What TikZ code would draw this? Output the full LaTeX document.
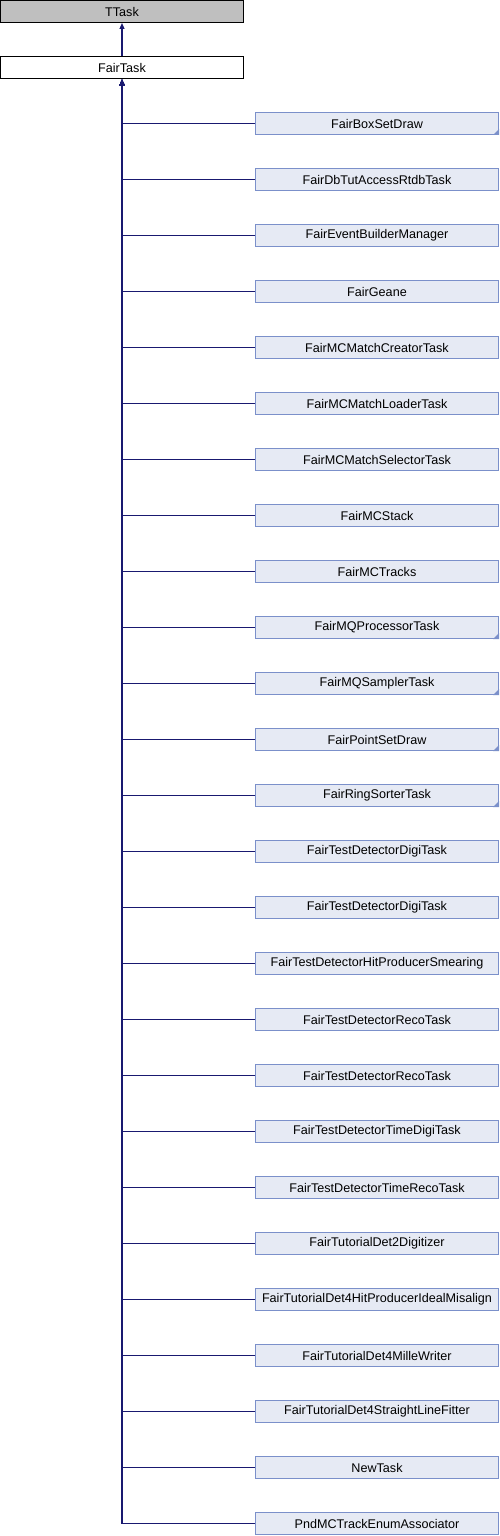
\documentclass[tikz,border=0pt]{standalone}
\usepackage{fontspec}
\setmainfont{Liberation Sans}
\usepackage{tikz}
\usetikzlibrary{arrows.meta}
\definecolor{basefill}{HTML}{BFBFBF}
\definecolor{classfill}{HTML}{E6EAF4}
\definecolor{classline}{HTML}{7B90CA}
\definecolor{inhline}{HTML}{191970}
\tikzstyle{every node}=[font=\fontsize{12.6}{14}\selectfont]
\tikzstyle{cls}=[draw,line width=1pt,inner sep=0pt,minimum width=243pt,minimum height=22pt]
\tikzstyle{base}=[cls,fill=basefill]
\tikzstyle{child}=[cls,draw=classline,fill=classfill]
\tikzstyle{inh}=[draw=inhline,line width=1.2pt,-{Triangle[length=6pt,width=5pt]}]

\begin{document}
\begin{tikzpicture}[x=1pt,y=-1pt]
\useasboundingbox (0,0) rectangle (500,1536);
\node[base]            (TTask)    at (122,11.5) {TTask};
\node[cls,fill=white]  (FairTask) at (122,68)   {FairTask};
\draw[inh] (FairTask) -- (TTask);
% derived classes, ! marks a box with a corner triangle
\foreach \name/\mark [count=\i from 0] in {
  FairBoxSetDraw/!, FairDbTutAccessRtdbTask/, FairEventBuilderManager/,
  FairGeane/, FairMCMatchCreatorTask/, FairMCMatchLoaderTask/,
  FairMCMatchSelectorTask/, FairMCStack/, FairMCTracks/,
  FairMQProcessorTask/!, FairMQSamplerTask/!, FairPointSetDraw/!,
  FairRingSorterTask/!, FairTestDetectorDigiTask/, FairTestDetectorDigiTask/,
  FairTestDetectorHitProducerSmearing/, FairTestDetectorRecoTask/,
  FairTestDetectorRecoTask/, FairTestDetectorTimeDigiTask/,
  FairTestDetectorTimeRecoTask/, FairTutorialDet2Digitizer/,
  FairTutorialDet4HitProducerIdealMisalign/, FairTutorialDet4MilleWriter/,
  FairTutorialDet4StraightLineFitter/, NewTask/, PndMCTrackEnumAssociator/}
{
  \node[child] (c\i) at (377,123.5+56*\i) {\name};
  \draw[inh] (c\i.west) -| (FairTask.south);
  \if!\mark
    \fill[classline] (c\i.south east) -- ++(-6,0) -- ++(6,-6) -- cycle;
  \fi
}
\end{tikzpicture}
\end{document}
